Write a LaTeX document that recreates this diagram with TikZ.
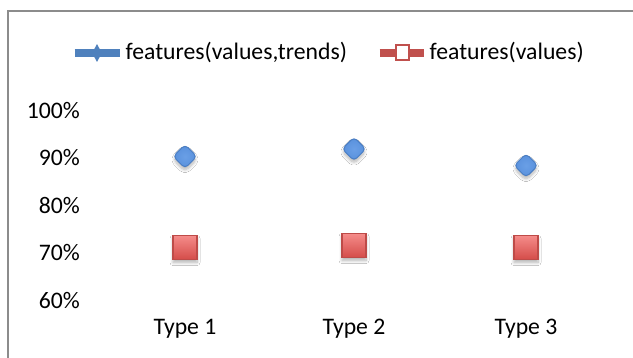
\documentclass[tikz,border=0pt]{standalone}
\usepackage{fontspec}
\setmainfont{Carlito}
\usetikzlibrary{shapes.geometric,shadows.blur}
\definecolor{framegray}{HTML}{8C8C8C}
\definecolor{serblue}{HTML}{4F81BD}
\definecolor{blueedge}{HTML}{4A7EC4}
\definecolor{bluelight}{HTML}{6A9FE6}
\definecolor{bluemid}{HTML}{5890DC}
\definecolor{serred}{HTML}{C0504D}
\definecolor{rededge}{HTML}{BE4B48}
\definecolor{redlight}{HTML}{F58C8A}
\definecolor{reddark}{HTML}{D44C49}
\tikzset{
  lbl/.style={inner sep=0pt, text=black},
  ticklbl/.style={lbl, anchor=base east},
  catlbl/.style={lbl, anchor=base},
  softshadow/.style={blur shadow={shadow xshift=0pt, shadow yshift=-3pt,
    shadow blur steps=8, shadow blur radius=3pt, shadow opacity=30}},
  bluemark/.style={diamond, inner sep=0pt, minimum width=24pt, minimum height=24pt,
    rounded corners=4pt, draw=blueedge, line width=1pt,
    inner color=bluelight, outer color=bluemid, softshadow},
  redmark/.style={rectangle, inner sep=0pt, minimum width=24pt, minimum height=24pt,
    draw=rededge, line width=1.4pt, top color=redlight, bottom color=reddark, softshadow},
  legline/.style={line width=8pt},
}
\begin{document}
\begin{tikzpicture}[x=1pt,y=-1pt,font=\fontsize{23.7}{28}\selectfont]
\useasboundingbox (0,0) rectangle (633,358);
\fill[white] (0,0) rectangle (633,358);
% chart frame (left and top edges)
\draw[framegray, line width=2pt] (8,360) -- (8,11.5) -- (635,11.5);

% value axis labels
\node[ticklbl] (t100) at (80,118.5) {100\%};
\node[ticklbl] (t90)  at (80,166)   {90\%};
\node[ticklbl] (t80)  at (80,213.5) {80\%};
\node[ticklbl] (t70)  at (80,261)   {70\%};
\node[ticklbl] (t60)  at (80,308.5) {60\%};

% category labels
\node[catlbl] (c1) at (185,335) {Type 1};
\node[catlbl] (c2) at (354,335) {Type 2};
\node[catlbl] (c3) at (526,335) {Type 3};

% series: features(values,trends)
\node[bluemark] (b1) at (185,156.5) {};
\node[bluemark] (b2) at (354,149)   {};
\node[bluemark] (b3) at (526,165.5) {};

% series: features(values)
\node[redmark] (r1) at (185,247.5) {};
\node[redmark] (r2) at (354,245.5) {};
\node[redmark] (r3) at (526,247.5) {};

% legend
\coordinate (la1) at (74.5,53);
\coordinate (la2) at (120,53);
\draw[legline, serblue] (la1) -- (la2);
\node[diamond, inner sep=0pt, minimum width=10pt, minimum height=18pt, fill=serblue] (lm1) at (97,53) {};
\node[lbl, anchor=base west] (lt1) at (125.5,59.5) {features(values,trends)};

\coordinate (lb1) at (379.5,53);
\coordinate (lb2) at (424,53);
\draw[legline, serred] (lb1) -- (lb2);
\node[rectangle, inner sep=0pt, minimum width=13pt, minimum height=15pt, fill=white, draw=serred, line width=2pt] (lm2) at (402.5,53) {};
\node[lbl, anchor=base west] (lt2) at (429.5,59.5) {features(values)};
\end{tikzpicture}
\end{document}
